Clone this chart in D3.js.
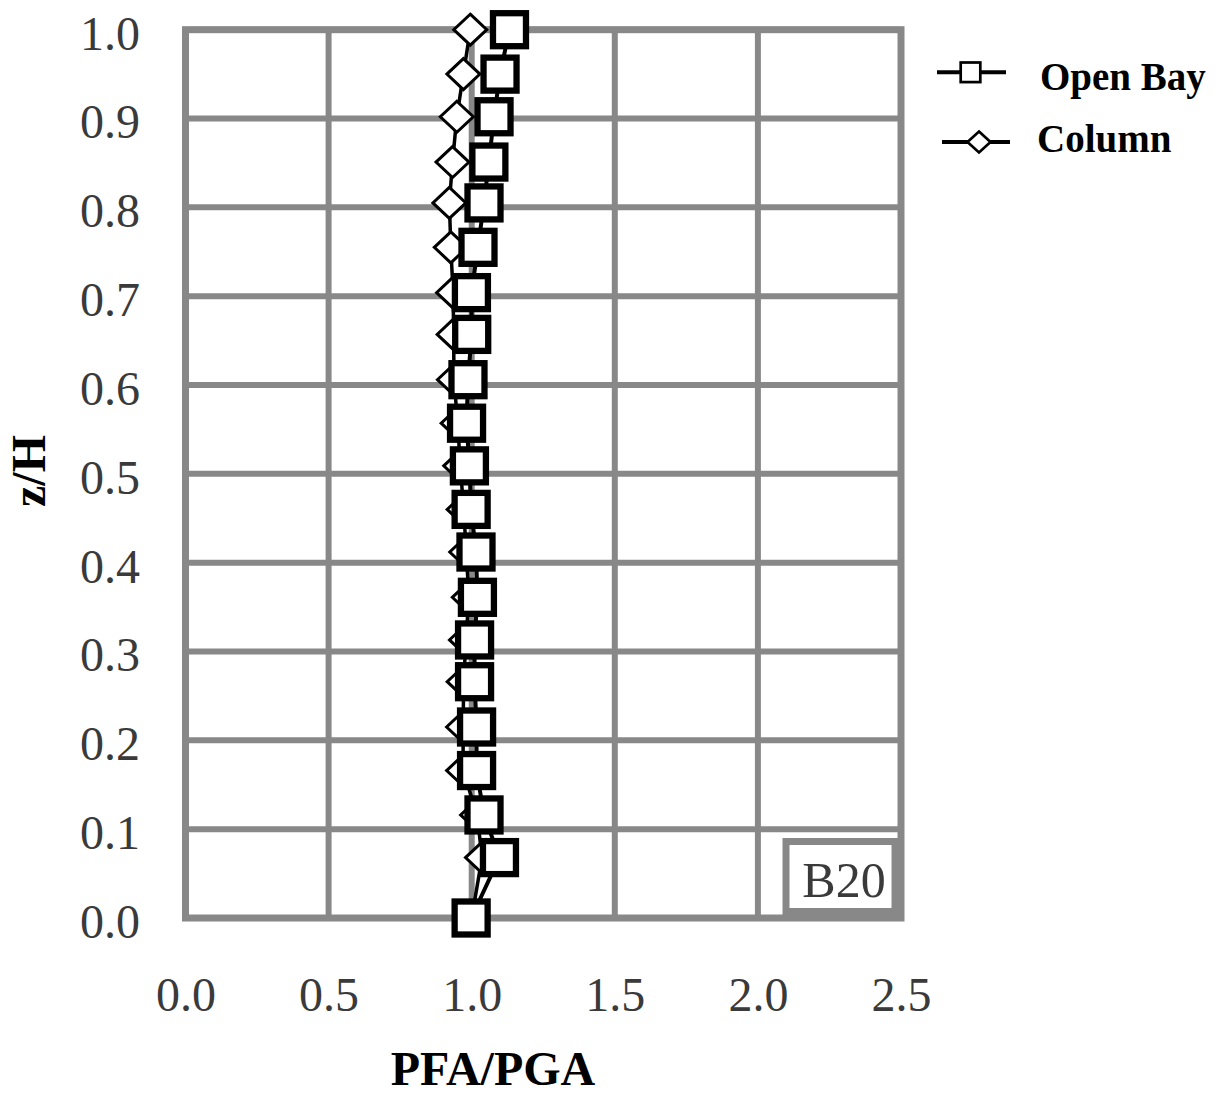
<!DOCTYPE html>
<html>
<head>
<meta charset="utf-8">
<script src="https://cdn.jsdelivr.net/npm/d3@7"></script>
<style>
  html, body { margin: 0; padding: 0; background: #fff; }
  svg { display: block; }
</style>
</head>
<body>
<svg id="chart" width="1220" height="1097"></svg>
<script>
// Relative height levels (z/H) shared by both profiles
const zLevels = [0.0, 0.068, 0.116, 0.166, 0.215, 0.266, 0.313, 0.361, 0.412, 0.460,
                 0.509, 0.557, 0.606, 0.657, 0.704, 0.755, 0.805, 0.851, 0.902, 0.950, 1.0];
// Peak floor acceleration ratio, open bay
const openBay = [0.998, 1.097, 1.043, 1.017, 1.017, 1.010, 1.010, 1.020, 1.015, 0.998,
                 0.992, 0.982, 0.987, 1.000, 0.999, 1.022, 1.043, 1.060, 1.078, 1.099, 1.132];
// Peak floor acceleration ratio, column
const column  = [1.000, 1.036, 1.019, 0.970, 0.970, 0.972, 0.980, 0.990, 0.981, 0.972,
                 0.960, 0.951, 0.938, 0.937, 0.935, 0.927, 0.922, 0.933, 0.948, 0.971, 0.995];
const xTicks = [0, 0.5, 1.0, 1.5, 2.0, 2.5];
const yTicks = [0, 0.1, 0.2, 0.3, 0.4, 0.5, 0.6, 0.7, 0.8, 0.9, 1.0];
const seriesNames = ["Open Bay", "Column"];
const panelLabel = "B20";

const svg = d3.select("#chart");
const serif = "'Liberation Serif', 'Times New Roman', serif";
const gridColor = "#888";

const x = d3.scaleLinear().domain([0, 2.5]).range([185.5, 901]);
const y = d3.scaleLinear().domain([0, 1]).range([918, 29.7]);

// grid
const grid = svg.append("g");
grid.selectAll("line.h").data(yTicks).join("line")
  .attr("x1", x(0)).attr("x2", x(2.5))
  .attr("y1", d => y(d)).attr("y2", d => y(d))
  .attr("stroke", gridColor).attr("stroke-width", 6);
grid.selectAll("line.v").data(xTicks).join("line")
  .attr("x1", d => x(d)).attr("x2", d => x(d))
  .attr("y1", y(0)).attr("y2", y(1))
  .attr("stroke", gridColor).attr("stroke-width", 6);
grid.append("rect")
  .attr("x", x(0)).attr("y", y(1))
  .attr("width", x(2.5) - x(0)).attr("height", y(0) - y(1))
  .attr("fill", "none").attr("stroke", gridColor).attr("stroke-width", 7);

// axes (labels only)
const yAxis = d3.axisLeft(y).tickValues(yTicks).tickFormat(d3.format(".1f")).tickSize(0).tickPadding(0);
const gy = svg.append("g").attr("transform", "translate(140,4)").call(yAxis);
const xAxis = d3.axisBottom(x).tickValues(xTicks).tickFormat(d3.format(".1f")).tickSize(0).tickPadding(0);
const gx = svg.append("g").attr("transform", "translate(0,977)").call(xAxis);
[gy, gx].forEach(g => {
  g.select(".domain").remove();
  g.selectAll("text")
    .attr("font-family", serif).attr("font-size", 48)
    .attr("fill", "#3a3a3a");
});
gx.selectAll("text").attr("dy", "0.71em");

// axis titles
svg.append("text")
  .attr("transform", "translate(45,471) rotate(-90)")
  .attr("text-anchor", "middle")
  .attr("font-family", serif).attr("font-weight", "bold").attr("font-size", 48)
  .attr("fill", "#000").text("z/H");
svg.append("text")
  .attr("x", 493).attr("y", 1085)
  .attr("text-anchor", "middle")
  .attr("font-family", serif).attr("font-weight", "bold").attr("font-size", 48)
  .attr("fill", "#000").text("PFA/PGA");

// panel tag
svg.append("rect")
  .attr("x", 786).attr("y", 841.5).attr("width", 109).attr("height", 70)
  .attr("fill", "#fff").attr("stroke", gridColor).attr("stroke-width", 7);
svg.append("text")
  .attr("x", 844).attr("y", 897)
  .attr("text-anchor", "middle")
  .attr("font-family", serif).attr("font-size", 50)
  .attr("fill", "#3a3a3a").text(panelLabel);

// series
const colPts = zLevels.map((z, i) => [column[i], z]);
const obPts = zLevels.map((z, i) => [openBay[i], z]);
const line = d3.line().x(d => x(d[0])).y(d => y(d[1]));
const diamond = (w, h) => `M0,${-h / 2}L${w / 2},0L0,${h / 2}L${-w / 2},0Z`;

svg.append("path").attr("d", line(colPts))
  .attr("fill", "none").attr("stroke", "#000").attr("stroke-width", 3.5);
svg.append("g").selectAll("path").data(colPts).join("path")
  .attr("transform", d => `translate(${x(d[0])},${y(d[1])})`)
  .attr("d", diamond(33, 31))
  .attr("fill", "#fff").attr("stroke", "#000").attr("stroke-width", 3);

svg.append("path").attr("d", line(obPts))
  .attr("fill", "none").attr("stroke", "#000").attr("stroke-width", 4);
const sq = 33;
svg.append("g").selectAll("rect").data(obPts).join("rect")
  .attr("x", d => x(d[0]) - sq / 2).attr("y", d => y(d[1]) - sq / 2)
  .attr("width", sq).attr("height", sq)
  .attr("fill", "#fff").attr("stroke", "#000").attr("stroke-width", 6.3);

// legend
const lg = svg.append("g");
lg.append("line").attr("x1", 937).attr("x2", 1006).attr("y1", 72.3).attr("y2", 72.3)
  .attr("stroke", "#000").attr("stroke-width", 4);
lg.append("rect").attr("x", 970.5 - 9.8).attr("y", 72.3 - 9.8).attr("width", 19.6).attr("height", 19.6)
  .attr("fill", "#fff").attr("stroke", "#000").attr("stroke-width", 2.7);
lg.append("line").attr("x1", 942).attr("x2", 1010).attr("y1", 142).attr("y2", 142)
  .attr("stroke", "#000").attr("stroke-width", 4);
lg.append("path").attr("transform", "translate(979,142)").attr("d", diamond(23, 21))
  .attr("fill", "#fff").attr("stroke", "#000").attr("stroke-width", 2.7);
lg.selectAll("text").data(seriesNames).join("text")
  .attr("x", (d, i) => i === 0 ? 1040 : 1037)
  .attr("y", (d, i) => i === 0 ? 90 : 151.7)
  .attr("font-family", serif).attr("font-weight", "bold").attr("font-size", 39)
  .attr("fill", "#000").text(d => d);
</script>
</body>
</html>
